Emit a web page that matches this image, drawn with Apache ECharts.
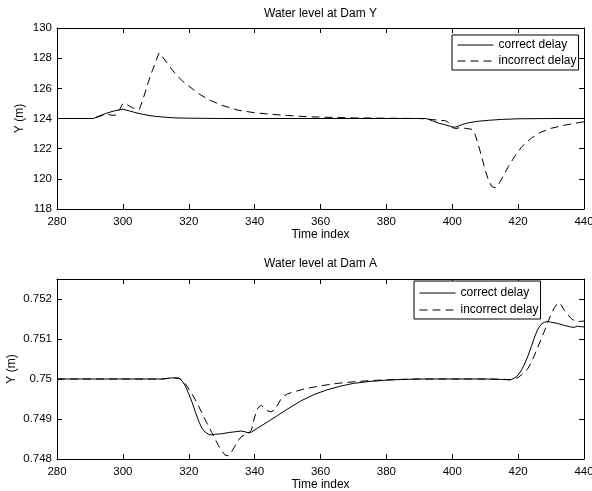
<!DOCTYPE html>
<html>
<head>
<meta charset="utf-8">
<script src="https://cdn.jsdelivr.net/npm/echarts@6/dist/echarts.min.js"></script>
<style>
  html, body { margin: 0; padding: 0; background: #fff; }
  #chart { width: 592px; height: 491px; }
</style>
</head>
<body>
<div id="chart"></div>
<script>
// Time axis ticks shared by both panels
const timeTicks = [280, 300, 320, 340, 360, 380, 400, 420, 440];

// Dam Y water level (m)
const damYCorrectT = [280, 291, 293, 295, 297, 299, 300, 302, 304, 306, 308, 310, 313, 316, 320, 325, 330, 392, 394, 396, 398, 400, 401, 403, 405, 408, 411, 415, 420, 430, 440];
const damYCorrectV = [124, 124, 124.18, 124.35, 124.48, 124.58, 124.62, 124.5, 124.38, 124.28, 124.2, 124.14, 124.08, 124.04, 124.02, 124.01, 124, 124, 123.85, 123.68, 123.57, 123.45, 123.42, 123.6, 123.72, 123.82, 123.88, 123.94, 123.98, 124, 124];

const damYIncorrectT = [280, 291, 293, 295, 296, 297, 298, 299, 300, 301, 303, 305, 306, 307, 308, 309, 310, 311, 312, 314, 316, 318, 320, 323, 326, 330, 335, 340, 345, 350, 355, 360, 370, 380, 390, 393, 396, 398, 399, 400, 401, 402, 404, 406, 407, 408, 409, 410, 411, 412, 413, 414, 415, 417, 419, 421, 424, 427, 430, 434, 437, 440];
const damYIncorrectV = [124, 124, 124.15, 124.3, 124.25, 124.2, 124.25, 124.6, 125.0, 124.95, 124.7, 124.6, 125.2, 125.9, 126.6, 127.2, 127.8, 128.35, 128.1, 127.5, 126.95, 126.5, 126.15, 125.65, 125.25, 124.88, 124.55, 124.38, 124.28, 124.2, 124.13, 124.09, 124.04, 124.02, 124.0, 123.95, 123.88, 123.85, 123.7, 123.4, 123.33, 123.38, 123.35, 123.28, 122.9, 122.2, 121.4, 120.6, 119.9, 119.5, 119.4, 119.6, 120.0, 120.8, 121.5, 122.1, 122.7, 123.1, 123.35, 123.55, 123.68, 123.78];

// Dam A water level (m)
const damACorrectT = [280, 312, 315, 317, 318, 319, 320, 321, 322, 323, 324, 325, 326, 327, 328, 330, 332, 334, 336, 338, 339, 341, 344, 347, 350, 354, 358, 362, 366, 370, 375, 380, 385, 390, 400, 410, 415, 417, 418, 419, 420, 421, 422, 423, 424, 425, 426, 427, 428, 429, 430, 432, 434, 436, 437, 438, 440];
const damACorrectV = [0.75, 0.75, 0.75003, 0.75002, 0.74995, 0.74982, 0.74963, 0.74942, 0.74918, 0.74895, 0.74877, 0.74867, 0.74862, 0.7486, 0.74862, 0.74863, 0.74866, 0.74868, 0.7487, 0.74866, 0.74867, 0.74878, 0.74893, 0.74909, 0.74925, 0.74945, 0.74961, 0.74973, 0.74982, 0.74989, 0.74994, 0.74997, 0.74999, 0.75, 0.75, 0.75, 0.74999, 0.74998, 0.74999, 0.75003, 0.7501, 0.75022, 0.75038, 0.75058, 0.75081, 0.75105, 0.75125, 0.75137, 0.75142, 0.75144, 0.75142, 0.75139, 0.75134, 0.7513, 0.75129, 0.75132, 0.7513];

const damAIncorrectT = [280, 312, 315, 317, 318, 319, 320, 321, 322, 323, 324, 325, 326, 327, 328, 329, 330, 331, 332, 333, 334, 335, 336, 337, 338, 339, 340, 341, 342, 343, 344, 345, 346, 347, 348, 349, 350, 352, 355, 360, 365, 370, 375, 380, 390, 400, 410, 416, 418, 419, 420, 421, 422, 423, 424, 425, 426, 427, 428, 429, 430, 431, 432, 433, 434, 435, 436, 437, 438, 439, 440];
const damAIncorrectV = [0.75, 0.75, 0.75003, 0.75002, 0.74997, 0.74988, 0.74975, 0.74962, 0.74948, 0.74932, 0.74915, 0.74898, 0.74882, 0.74866, 0.7485, 0.74834, 0.7482, 0.7481, 0.74808, 0.74818, 0.74832, 0.74846, 0.74856, 0.7486, 0.74862, 0.74872, 0.74905, 0.74928, 0.74934, 0.74928, 0.7492, 0.74918, 0.74922, 0.74935, 0.7495, 0.74958, 0.74963, 0.74968, 0.74975, 0.74983, 0.74989, 0.74993, 0.74996, 0.74998, 0.75, 0.75, 0.75, 0.74999, 0.74998, 0.75, 0.75004, 0.7501, 0.75018, 0.75026, 0.75042, 0.7506, 0.7508, 0.751, 0.7512, 0.75141, 0.75162, 0.75178, 0.7519, 0.75186, 0.75172, 0.75162, 0.75152, 0.75146, 0.75143, 0.75144, 0.75145];

const seriesNames = ['correct delay', 'incorrect delay'];
const panelTitles = ['Water level at Dam Y', 'Water level at Dam A'];

const FONT = '"Liberation Sans", Arial, Helvetica, sans-serif';
const TXT = { color: '#000', fontSize: 12, fontFamily: FONT };
const TICK_TXT = { color: '#000', fontSize: 11.5, fontFamily: FONT };
const DASH = [8, 5];

function pairs(ts, vs) { return ts.map((t, i) => [t, vs[i]]); }

const frameLine = { show: true, onZero: false, lineStyle: { color: '#000', width: 1 } };
const tick = { show: true, inside: true, length: 5, lineStyle: { color: '#000', width: 1 } };

function xAxes(grid) {
  const base = { type: 'value', gridIndex: grid, min: timeTicks[0], max: timeTicks[timeTicks.length - 1],
    interval: timeTicks[1] - timeTicks[0], axisLine: frameLine, axisTick: tick, splitLine: { show: false } };
  return [
    Object.assign({}, base, { position: 'bottom', name: 'Time index', nameLocation: 'middle', nameGap: 18,
      nameTextStyle: TXT, axisLabel: Object.assign({ margin: 7 }, TICK_TXT) }),
    Object.assign({}, base, { position: 'top', axisLabel: { show: false } })
  ];
}

function yAxes(grid, min, max, interval, nameGap, showMax) {
  const base = { type: 'value', gridIndex: grid, min: min, max: max, interval: interval,
    axisLine: frameLine, axisTick: tick, splitLine: { show: false } };
  return [
    Object.assign({}, base, { position: 'left', name: 'Y (m)', nameLocation: 'middle', nameGap: nameGap,
      nameMoveOverlap: false,
      nameTextStyle: TXT, axisLabel: Object.assign({ margin: 5, showMaxLabel: showMax }, TICK_TXT) }),
    Object.assign({}, base, { position: 'right', axisLabel: { show: false } })
  ];
}

function lineSeries(name, data, xi, yi, dashed) {
  return {
    type: 'line', name: name, data: data, xAxisIndex: xi, yAxisIndex: yi,
    symbol: 'none', showSymbol: false, color: '#000', smooth: false,
    lineStyle: { color: '#000', width: 1, type: dashed ? DASH : 'solid' },
    emphasis: { disabled: true }
  };
}

function legendAt(left, top, gap, padTop) {
  return {
    data: seriesNames, left: left, top: top, orient: 'vertical',
    itemWidth: 36, itemHeight: 12, itemGap: gap, padding: [padTop, 2, 3, 5],
    borderColor: '#000', borderWidth: 1, backgroundColor: '#fff', borderRadius: 0,
    itemStyle: { opacity: 0 },
    lineStyle: { width: 1 },
    textStyle: TXT, selectedMode: false
  };
}

const chart = echarts.init(document.getElementById('chart'), null, { renderer: 'canvas' });
chart.setOption({
  animation: false,
  backgroundColor: '#fff',
  title: [
    { text: panelTitles[0], left: 320.5, top: 8, textAlign: 'center', padding: 0,
      textStyle: Object.assign({ fontWeight: 'normal' }, TXT) },
    { text: panelTitles[1], left: 320.5, top: 258, textAlign: 'center', padding: 0,
      textStyle: Object.assign({ fontWeight: 'normal' }, TXT) }
  ],
  grid: [
    { left: 57, top: 28, width: 527, height: 181, outerBoundsMode: 'none', containLabel: false },
    { left: 57, top: 279, width: 527, height: 180, outerBoundsMode: 'none', containLabel: false }
  ],
  xAxis: xAxes(0).concat(xAxes(1)),
  yAxis: yAxes(0, 118, 130, 2, 31, true).concat(yAxes(1, 0.748, 0.7525, 0.001, 39, false)),
  legend: [legendAt(452, 35, 4, 4), legendAt(414, 281, 5, 6)],
  series: [
    lineSeries(seriesNames[0], pairs(damYCorrectT, damYCorrectV), 0, 0, false),
    lineSeries(seriesNames[1], pairs(damYIncorrectT, damYIncorrectV), 0, 0, true),
    lineSeries(seriesNames[0], pairs(damACorrectT, damACorrectV), 2, 2, false),
    lineSeries(seriesNames[1], pairs(damAIncorrectT, damAIncorrectV), 2, 2, true)
  ]
});
</script>
</body>
</html>
